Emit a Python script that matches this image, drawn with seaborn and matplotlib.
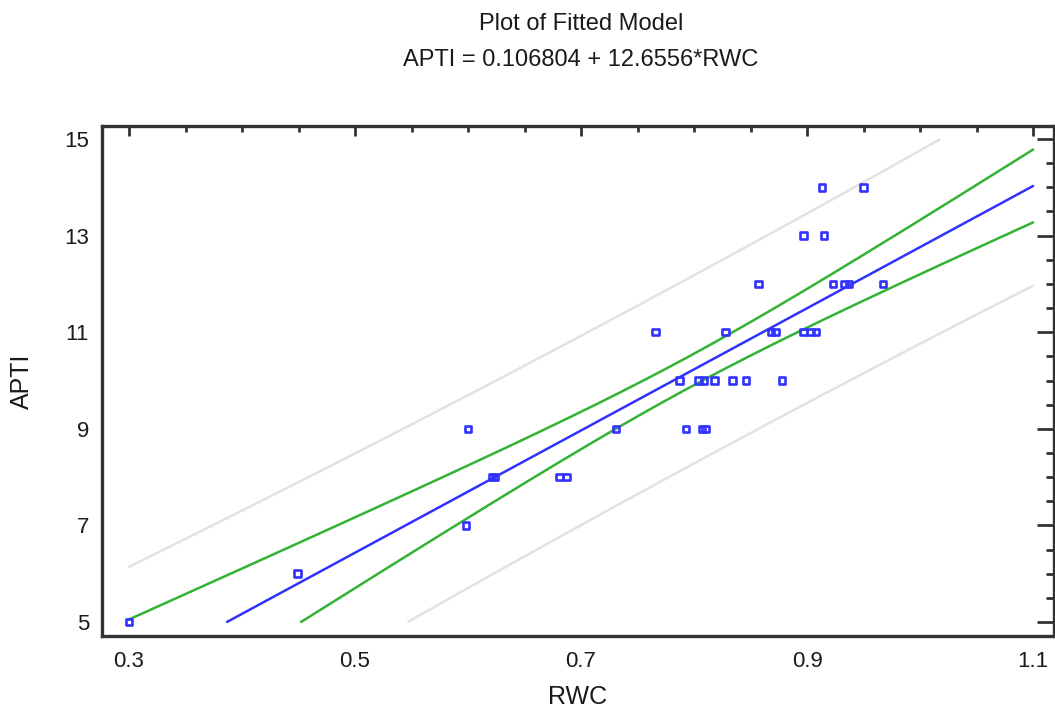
import numpy as np
import pandas as pd
import seaborn as sns
import matplotlib.pyplot as plt
from matplotlib.ticker import FixedLocator, MultipleLocator

sns.set_style("white")
plt.rcParams["font.family"] = ["Liberation Sans", "DejaVu Sans"]

# fitted model, as printed in the title
intercept = 0.106804
slope = 12.6556

rwc = [0.300, 0.449, 0.598, 0.600, 0.621, 0.624, 0.681, 0.687, 0.731,
       0.766, 0.787, 0.793, 0.804, 0.807, 0.809, 0.810, 0.818, 0.828,
       0.834, 0.846, 0.857, 0.868, 0.872, 0.878, 0.897, 0.897, 0.903,
       0.908, 0.913, 0.915, 0.923, 0.933, 0.937, 0.950, 0.967]
apti = [5, 6, 7, 9, 8, 8, 8, 8, 9,
        11, 10, 9, 10, 9, 10, 9, 10, 11,
        10, 10, 12, 11, 11, 10, 13, 11, 11,
        11, 14, 13, 12, 12, 12, 14, 12]

df = pd.DataFrame({"RWC": rwc, "APTI": apti})

# 95% confidence and prediction limits around the fitted line
n = len(df)
resid = df["APTI"] - (intercept + slope * df["RWC"])
s = np.sqrt((resid ** 2).sum() / (n - 2))
xbar = df["RWC"].mean()
sxx = ((df["RWC"] - xbar) ** 2).sum()
t = 2.0345  # t(0.975, 33 df)

grid = np.linspace(0.3, 1.1, 600)
fit = intercept + slope * grid
lev = 1 / n + (grid - xbar) ** 2 / sxx
ci = t * s * np.sqrt(lev)
pi = t * s * np.sqrt(1 + lev)


def clip(y):
    return np.where((y >= 5) & (y <= 15), y, np.nan)


blue = "#3232ff"
green = "#33b333"
grey = "#e2e2e2"
dark = "#333333"
txt = "#1a1a1a"

fig = plt.figure(figsize=(10.55, 7.09), dpi=100)
ax = fig.add_axes([102 / 1055, 1 - 636 / 709, 952 / 1055, 510 / 709])

ax.plot(grid, clip(fit + pi), color=grey, lw=1.8)
ax.plot(grid, clip(fit - pi), color=grey, lw=1.8)
ax.plot(grid, clip(fit + ci), color=green, lw=1.8)
ax.plot(grid, clip(fit - ci), color=green, lw=1.8)
ax.plot(grid, clip(fit), color=blue, lw=1.8)

sns.scatterplot(data=df, x="RWC", y="APTI", marker="s", s=22,
                facecolor="none", edgecolor=blue, ax=ax, zorder=5)
ax.collections[-1].set_linewidth(1.9)

ax.set_xlim(0.2761, 1.1185)
ax.set_ylim(4.71, 15.27)
ax.xaxis.set_major_locator(FixedLocator([0.3, 0.5, 0.7, 0.9, 1.1]))
ax.xaxis.set_minor_locator(MultipleLocator(0.05))
ax.yaxis.set_major_locator(FixedLocator([5, 7, 9, 11, 13, 15]))
ax.yaxis.set_minor_locator(MultipleLocator(0.5))
ax.set_xticklabels(["0.3", "0.5", "0.7", "0.9", "1.1"])

for sp in ax.spines.values():
    sp.set_visible(True)
    sp.set_color(dark)
    sp.set_linewidth(2.4)

ax.tick_params(which="both", direction="in", top=True, right=True,
               color=dark, width=2, labelcolor=txt, labelsize=16)
ax.tick_params(axis="x", which="major", length=7.5, pad=10.5)
ax.tick_params(axis="x", which="minor", length=4.3)
ax.tick_params(axis="y", which="major", length=12, pad=9.4)
ax.tick_params(axis="y", which="minor", length=5.8)

ax.set_xlabel("RWC", fontsize=18, color=txt)
ax.set_ylabel("APTI", fontsize=18, color=txt)
ax.xaxis.label.set_va("center")
ax.yaxis.label.set_va("center")
ax.xaxis.set_label_coords(0.5, -61 / 510)
ax.yaxis.set_label_coords(-80 / 952, 0.5)

fig.text(0.5 + (581 - 527.5) / 1055, 1 - 24.5 / 709, "Plot of Fitted Model",
         ha="center", va="center", fontsize=17, color=txt)
fig.text(0.5 + (581 - 527.5) / 1055, 1 - 60.5 / 709, "APTI = 0.106804 + 12.6556*RWC",
         ha="center", va="center", fontsize=17, color=txt)

fig.savefig("out.png", dpi=100)
